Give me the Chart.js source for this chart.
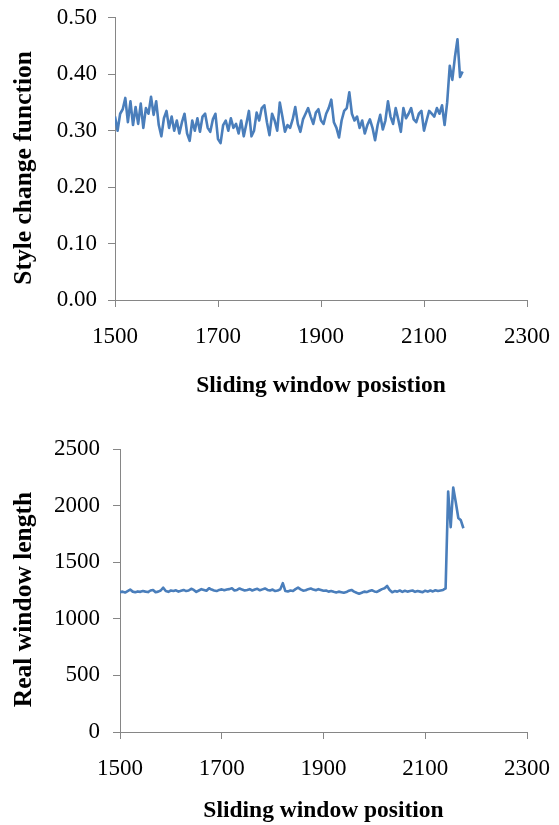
<!DOCTYPE html>
<html>
<head>
<meta charset="utf-8">
<script src="https://cdn.jsdelivr.net/npm/chart.js@4"></script>
<style>
  html, body { margin: 0; padding: 0; background: #ffffff; }
  body { width: 559px; height: 825px; position: relative; overflow: hidden; }
  canvas { position: absolute; left: 0; }
  #c1 { top: -7px; }
  #c2 { top: 400px; }
</style>
</head>
<body>
<canvas id="c1" width="566" height="407"></canvas>
<canvas id="c2" width="566" height="425"></canvas>
<script>
// ---- data ----
const positions = [
  1500,1505,1510,1515,1520,1525,1530,1535,1540,1545,
  1550,1555,1560,1565,1570,1575,1580,1585,1590,1595,
  1600,1605,1610,1615,1620,1625,1630,1635,1640,1645,
  1650,1655,1660,1665,1670,1675,1680,1685,1690,1695,
  1700,1705,1710,1715,1720,1725,1730,1735,1740,1745,
  1750,1755,1760,1765,1770,1775,1780,1785,1790,1795,
  1800,1805,1810,1815,1820,1825,1830,1835,1840,1845,
  1850,1855,1860,1865,1870,1875,1880,1885,1890,1895,
  1900,1905,1910,1915,1920,1925,1930,1935,1940,1945,
  1950,1955,1960,1965,1970,1975,1980,1985,1990,1995,
  2000,2005,2010,2015,2020,2025,2030,2035,2040,2045,
  2050,2055,2060,2065,2070,2075,2080,2085,2090,2095,
  2100,2105,2110,2115,2120,2125,2130,2135,2140,2145,
  2150,2155,2160,2165,2170,2175
];
const styleChange = [
  0.325,0.300,0.330,0.338,0.358,0.315,0.352,0.310,0.342,0.312,
  0.348,0.305,0.340,0.330,0.360,0.328,0.352,0.310,0.290,0.322,
  0.335,0.305,0.325,0.300,0.318,0.295,0.315,0.330,0.295,0.282,
  0.318,0.300,0.322,0.298,0.325,0.330,0.305,0.298,0.320,0.330,
  0.285,0.278,0.310,0.318,0.300,0.322,0.305,0.312,0.295,0.318,
  0.290,0.312,0.335,0.290,0.300,0.332,0.318,0.340,0.345,0.315,
  0.292,0.330,0.318,0.300,0.350,0.325,0.298,0.310,0.305,0.320,
  0.342,0.312,0.298,0.320,0.330,0.340,0.325,0.312,0.332,0.338,
  0.318,0.312,0.330,0.340,0.355,0.315,0.305,0.288,0.318,0.335,
  0.340,0.368,0.330,0.318,0.325,0.305,0.318,0.295,0.310,0.320,
  0.305,0.283,0.310,0.328,0.302,0.318,0.352,0.325,0.312,0.340,
  0.320,0.298,0.340,0.322,0.330,0.340,0.320,0.315,0.330,0.335,
  0.300,0.318,0.335,0.330,0.325,0.340,0.330,0.345,0.310,0.350,
  0.415,0.390,0.430,0.462,0.395,0.405
];
const windowLength = [
  1235,1240,1232,1245,1258,1240,1235,1242,1238,1245,
  1240,1236,1250,1255,1235,1240,1250,1275,1245,1238,
  1250,1246,1252,1240,1248,1255,1245,1250,1265,1255,
  1238,1250,1262,1255,1248,1270,1258,1250,1245,1255,
  1260,1252,1258,1262,1270,1250,1255,1268,1258,1250,
  1255,1262,1250,1258,1265,1252,1260,1268,1255,1250,
  1258,1245,1250,1260,1315,1245,1242,1250,1245,1262,
  1275,1260,1248,1252,1262,1268,1258,1252,1262,1255,
  1248,1250,1240,1245,1238,1232,1240,1235,1230,1236,
  1248,1255,1240,1230,1222,1230,1240,1236,1245,1252,
  1242,1238,1250,1262,1270,1290,1255,1235,1245,1240,
  1250,1238,1248,1240,1245,1250,1238,1245,1240,1235,
  1248,1240,1250,1242,1252,1245,1250,1255,1268,2125,
  1810,2160,2030,1890,1870,1800
];
const xTicks = [1500, 1700, 1900, 2100, 2300];
const yTicksTop = [0.00, 0.10, 0.20, 0.30, 0.40, 0.50];
const yTicksBottom = [0, 500, 1000, 1500, 2000, 2500];
const topYTitle = 'Style change function';
const topXTitle = 'Sliding window posistion';
const bottomYTitle = 'Real window length';
const bottomXTitle = 'Sliding window position';

// ---- styling ----
const SERIF = "'Liberation Serif', 'Times New Roman', serif";
const AXIS = '#868686';
const LINE = '#4A7EBB';
const Y_TITLE_SIZE = 25.5;

// vertical axis title, drawn beside the y scale and slightly below its centre
const yTitlePlugin = {
  id: 'yTitle',
  afterDraw(chart, args, opts) {
    const s = chart.scales.y;
    const ctx = chart.ctx;
    const lh = Y_TITLE_SIZE * 1.2;
    ctx.save();
    ctx.translate(s.left + 9 + lh / 2, (s.top + s.bottom) / 2 + 9);
    ctx.rotate(-Math.PI / 2);
    ctx.font = 'bold ' + Y_TITLE_SIZE + 'px ' + SERIF;
    ctx.fillStyle = '#000';
    ctx.textAlign = 'center';
    ctx.textBaseline = 'middle';
    ctx.fillText(opts.text, 0, 0);
    ctx.restore();
  }
};

function makeChart(id, values, yTicks, yFmt, yTitle, xTitle, L) {
  const pts = positions.map((p, i) => ({ x: p, y: values[i] }));
  return new Chart(document.getElementById(id), {
    type: 'line',
    data: { datasets: [{ data: pts, borderColor: LINE, borderWidth: 2.6, pointRadius: 0, tension: 0, fill: false, borderJoinStyle: 'round' }] },
    plugins: [yTitlePlugin],
    options: {
      responsive: false, animation: false, devicePixelRatio: 1,
      layout: { padding: { top: L.padTop, right: 0, left: 0, bottom: 0 } },
      plugins: { legend: { display: false }, tooltip: { enabled: false }, yTitle: { text: yTitle } },
      scales: {
        x: {
          type: 'linear', min: xTicks[0], max: xTicks[xTicks.length - 1],
          afterBuildTicks: s => { s.ticks = xTicks.map(v => ({ value: v })); },
          afterFit: s => { s.height = L.xHeight; },
          grid: { drawOnChartArea: false, drawTicks: true, tickLength: 7, color: AXIS },
          border: { display: true, color: AXIS, width: 1 },
          ticks: { color: '#000', font: { family: SERIF, size: 23 }, padding: 16, maxRotation: 0, autoSkip: false, callback: v => String(v) },
          title: { display: true, text: xTitle, color: '#000', font: { family: SERIF, size: 23.5, weight: 'bold' }, padding: { top: 0, bottom: L.xTitlePad } }
        },
        y: {
          min: yTicks[0], max: yTicks[yTicks.length - 1],
          afterBuildTicks: s => { s.ticks = yTicks.map(v => ({ value: v })); },
          afterFit: s => { s.width = L.yWidth; },
          grid: { drawOnChartArea: false, drawTicks: true, tickLength: 7, color: AXIS },
          border: { display: true, color: AXIS, width: 1 },
          ticks: { color: '#000', font: { family: SERIF, size: 23 }, padding: L.yTickPad, callback: yFmt, autoSkip: false },
          title: { display: false }
        }
      }
    }
  });
}

makeChart('c1', styleChange, yTicksTop, v => Number(v).toFixed(2), topYTitle, topXTitle,
  { padTop: 10, xHeight: 100, yWidth: 115, xTitlePad: 0, yTickPad: 11 });
makeChart('c2', windowLength, yTicksBottom, v => String(v), bottomYTitle, bottomXTitle,
  { padTop: 49, xHeight: 93, yWidth: 120, xTitlePad: 0, yTickPad: 13 });
</script>
</body>
</html>
